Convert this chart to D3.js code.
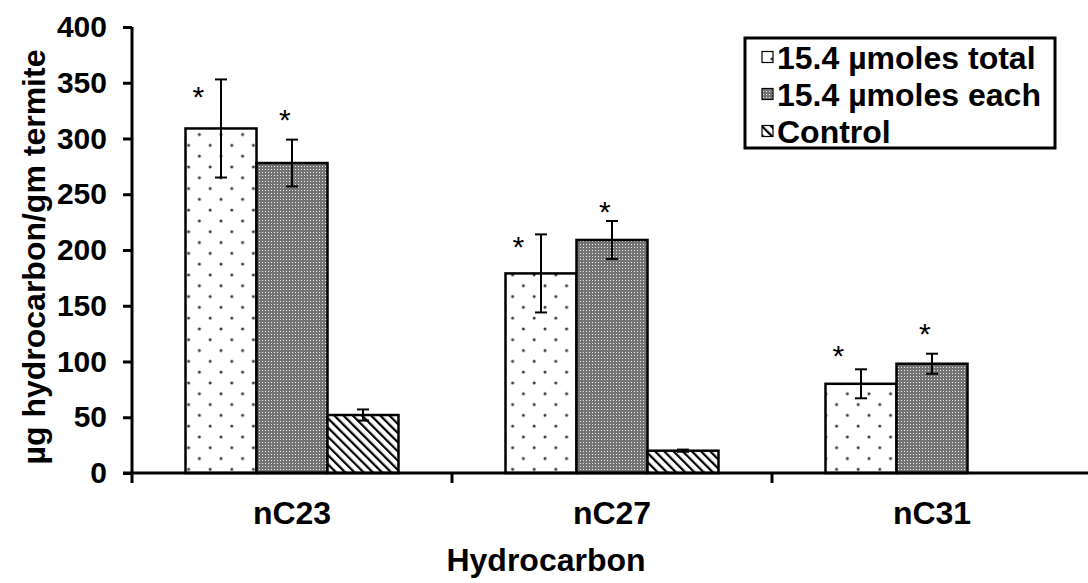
<!DOCTYPE html>
<html>
<head>
<meta charset="utf-8">
<script src="https://cdn.jsdelivr.net/npm/d3@7"></script>
<style>
  html, body { margin: 0; padding: 0; background: #fff; }
  svg { display: block; font-family: Arial, "Liberation Sans", sans-serif; font-weight: bold; }
</style>
</head>
<body>
<svg id="chart" width="1088" height="583"></svg>
<script>
// Hydrocarbon uptake per gram of termite
const categories = ["nC23", "nC27", "nC31"];
const seriesNames = ["15.4 µmoles total", "15.4 µmoles each", "Control"];
const totalValues = [309, 179, 80];
const totalErrors = [44, 35, 13];
const eachValues = [278, 209, 98];
const eachErrors = [21, 17, 9];
const controlValues = [52, 20, null];
const controlErrors = [5, 1, null];
// significance marks, placed at a value level above each bar
const starLevels = [[342, 321], [207, 239], [109, 129]];
const yTicks = [0, 50, 100, 150, 200, 250, 300, 350, 400];

const values = [totalValues, eachValues, controlValues];
const errors = [totalErrors, eachErrors, controlErrors];

const svg = d3.select("#chart");
const plotLeft = 132, plotRight = 1092, plotTop = 27, plotBottom = 473;
const fontSize = 32;

const y = d3.scaleLinear().domain([0, 400]).range([plotBottom, plotTop]);
const x0 = d3.scaleBand().domain(categories).range([plotLeft, plotRight]).padding(0);
const gap = x0.bandwidth() * 107 / 320;
const x1 = d3.scaleBand().domain(seriesNames).range([gap / 2, x0.bandwidth() - gap / 2]).padding(0);

// fill patterns
const defs = svg.append("defs");
const pDots = defs.append("pattern").attr("id", "pDots").attr("patternUnits", "userSpaceOnUse")
  .attr("width", 21.6).attr("height", 21.6);
pDots.append("rect").attr("width", 21.6).attr("height", 21.6).attr("fill", "#fff");
pDots.append("circle").attr("cx", 5).attr("cy", 5).attr("r", 1.5).attr("fill", "#333");
pDots.append("circle").attr("cx", 15.8).attr("cy", 15.8).attr("r", 1.5).attr("fill", "#333");

const pGrid = defs.append("pattern").attr("id", "pGrid").attr("patternUnits", "userSpaceOnUse")
  .attr("width", 3).attr("height", 3);
pGrid.append("rect").attr("width", 3).attr("height", 3).attr("fill", "#737373");
pGrid.append("rect").attr("x", 1).attr("y", 1).attr("width", 1).attr("height", 1).attr("fill", "#eeeeee");

const pHatch = defs.append("pattern").attr("id", "pHatch").attr("patternUnits", "userSpaceOnUse")
  .attr("width", 6.5).attr("height", 6.5).attr("patternTransform", "rotate(-45)");
pHatch.append("rect").attr("width", 6.5).attr("height", 6.5).attr("fill", "#fff");
pHatch.append("rect").attr("x", 0).attr("y", 0).attr("width", 2.2).attr("height", 6.5).attr("fill", "#000");

const fills = ["url(#pDots)", "url(#pGrid)", "url(#pHatch)"];

// bars
const rows = [];
categories.forEach((c, ci) => {
  seriesNames.forEach((s, si) => {
    const v = values[si][ci];
    if (v == null) return;
    rows.push({ c, s, si, v, e: errors[si][ci] });
  });
});

svg.append("g").selectAll("rect").data(rows).join("rect")
  .attr("x", d => x0(d.c) + x1(d.s))
  .attr("y", d => y(d.v))
  .attr("width", x1.bandwidth())
  .attr("height", d => y(0) - y(d.v))
  .attr("fill", d => fills[d.si])
  .attr("stroke", "#000")
  .attr("stroke-width", 2.5);

// error bars
const eb = svg.append("g").attr("stroke", "#000").attr("stroke-width", 2);
rows.forEach(d => {
  const cx = x0(d.c) + x1(d.s) + x1.bandwidth() / 2;
  eb.append("line").attr("x1", cx).attr("x2", cx).attr("y1", y(d.v + d.e)).attr("y2", y(d.v - d.e));
  [d.v + d.e, d.v - d.e].forEach(t => {
    eb.append("line").attr("x1", cx - 6).attr("x2", cx + 6).attr("y1", y(t)).attr("y2", y(t));
  });
});

// asterisks
const starOffsets = [-0.32, -0.1];
categories.forEach((c, ci) => {
  starLevels[ci].forEach((lv, si) => {
    const cx = x0(c) + x1(seriesNames[si]) + x1.bandwidth() / 2 + starOffsets[si] * x1.bandwidth();
    svg.append("text").attr("x", cx).attr("y", y(lv) + 15)
      .attr("text-anchor", "middle").attr("font-size", 30).attr("font-weight", "normal")
      .text("*");
  });
});

// y axis
const yAxis = svg.append("g").attr("transform", `translate(${plotLeft},0)`)
  .call(d3.axisLeft(y).tickValues(yTicks).tickSize(9).tickPadding(16));
yAxis.select(".domain").remove();
yAxis.selectAll(".tick line").attr("stroke", "#000").attr("stroke-width", 3);
yAxis.selectAll(".tick text").attr("font-size", 30).attr("font-weight", "bold").attr("fill", "#000")
  .attr("font-family", "Arial, 'Liberation Sans', sans-serif");
svg.append("line").attr("x1", plotLeft).attr("x2", plotLeft).attr("y1", plotTop).attr("y2", plotBottom + 10)
  .attr("stroke", "#000").attr("stroke-width", 3);

// x axis
svg.append("line").attr("x1", plotLeft - 9).attr("x2", 1088).attr("y1", plotBottom).attr("y2", plotBottom)
  .attr("stroke", "#000").attr("stroke-width", 3);
const boundaries = [x0(categories[1]), x0(categories[2])];
svg.append("g").selectAll("line").data(boundaries).join("line")
  .attr("x1", d => d).attr("x2", d => d).attr("y1", plotBottom).attr("y2", plotBottom + 10)
  .attr("stroke", "#000").attr("stroke-width", 3);
svg.append("g").selectAll("text").data(categories).join("text")
  .attr("x", d => x0(d) + x0.bandwidth() / 2)
  .attr("y", 524)
  .attr("text-anchor", "middle").attr("font-size", fontSize)
  .text(d => d);

// axis titles
svg.append("text").attr("x", 546).attr("y", 571).attr("text-anchor", "middle")
  .attr("font-size", fontSize).text("Hydrocarbon");
svg.append("text").attr("transform", `translate(45,257) rotate(-90)`).attr("text-anchor", "middle")
  .attr("font-size", fontSize).text("µg hydrocarbon/gm termite");

// legend
const lg = svg.append("g");
lg.append("rect").attr("x", 745).attr("y", 38).attr("width", 310).attr("height", 110)
  .attr("fill", "#fff").attr("stroke", "#000").attr("stroke-width", 3);
seriesNames.forEach((s, i) => {
  const cy = 57 + i * 37;
  lg.append("rect").attr("x", 762).attr("y", cy - 5.5).attr("width", 11).attr("height", 11)
    .attr("fill", fills[i]).attr("stroke", "#000").attr("stroke-width", 1.2);
  lg.append("text").attr("x", 777).attr("y", cy + 11.5).attr("font-size", fontSize).text(s);
});
</script>
</body>
</html>
